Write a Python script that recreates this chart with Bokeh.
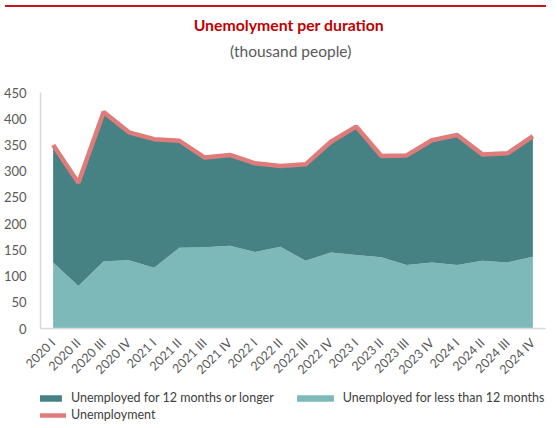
from math import pi
from bokeh.plotting import figure
from bokeh.models import (Range1d, FixedTicker, Legend, LegendItem, Label, Div,
                          ColumnDataSource)
from bokeh.layouts import column
from bokeh.embed import file_html
from bokeh.resources import INLINE

quarters = ["2020 I", "2020 II", "2020 III", "2020 IV",
            "2021 I", "2021 II", "2021 III", "2021 IV",
            "2022 I", "2022 II", "2022 III", "2022 IV",
            "2023 I", "2023 II", "2023 III", "2023 IV",
            "2024 I", "2024 II", "2024 III", "2024 IV"]
short_term = [126, 81, 128, 130, 116, 154, 155, 158, 146, 156,
              129, 145, 140, 136, 121, 126, 121, 129, 126, 137]
long_term = [224, 197, 285, 244, 245, 204, 171, 173, 169, 154,
             184, 211, 245, 193, 209, 233, 248, 203, 208, 230]
unemployment = [350, 278, 413, 374, 361, 358, 326, 331, 315, 310,
                313, 356, 385, 329, 330, 359, 369, 332, 334, 367]
y_ticks = [0, 50, 100, 150, 200, 250, 300, 350, 400, 450]

FONT = "Lato"
DARK = "#468284"
LIGHT = "#7db9b9"
RED = "#e07b7b"
W = 549


def strip(height):
    f = figure(width=W, height=height, x_range=Range1d(0, W),
               y_range=Range1d(height, 0), output_backend="svg",
               toolbar_location=None, min_border=0, min_border_left=0,
               min_border_right=0, min_border_top=0, min_border_bottom=0,
               x_axis_type=None, y_axis_type=None, title=None)
    f.outline_line_color = None
    f.xgrid.visible = False
    f.ygrid.visible = False
    return f


# header
hf = strip(72)
hf.add_layout(Label(x=270, y=12, text="Unemolyment per duration",
                    text_align="center", text_baseline="middle",
                    text_font=FONT, text_font_size="15.8px",
                    text_font_style="bold", text_color="#c00000"))
hf.add_layout(Label(x=272, y=38, text="(thousand people)",
                    text_align="center", text_baseline="middle",
                    text_font=FONT, text_font_size="15.5px",
                    text_color="#595959"))

# main chart
src = ColumnDataSource(dict(x=list(range(len(quarters))), short=short_term,
                            long=long_term, total=unemployment))

p = figure(width=W, height=305, x_range=Range1d(-0.5, len(quarters) - 0.5),
           y_range=Range1d(0, 450), output_backend="svg", toolbar_location=None,
           min_border_left=36, min_border_right=4, min_border_top=8,
           min_border_bottom=61, title=None)
p.outline_line_color = None
p.xgrid.visible = False
p.ygrid.visible = False

areas = p.varea_stack(["short", "long"], x="x", source=src,
                      fill_color=[LIGHT, DARK])
line = p.line("x", "total", source=src, line_width=4.5, line_color=RED)

for ax in (p.xaxis[0], p.yaxis[0]):
    ax.axis_line_color = "#d9d9d9"
    ax.axis_line_width = 1.5
    ax.major_tick_line_color = None
    ax.minor_tick_line_color = None
    ax.major_tick_out = 0
    ax.major_tick_in = 0
    ax.major_label_text_font = FONT
    ax.major_label_text_font_size = "13px"
    ax.major_label_text_color = "#595959"

p.yaxis.ticker = FixedTicker(ticks=y_ticks)
p.yaxis.major_label_standoff = 14
p.xaxis.ticker = FixedTicker(ticks=list(range(len(quarters))))
p.xaxis.major_label_overrides = {i: q for i, q in enumerate(quarters)}
p.xaxis.major_label_orientation = pi / 4
p.xaxis.major_label_text_font_size = "12.5px"
p.xaxis.major_label_standoff = 12

# legend strip
lf = strip(33)
sw_dark = lf.varea(x=[0, 1], y1=[0, 0], y2=[0, 0], fill_color=DARK)
sw_light = lf.varea(x=[0, 1], y1=[0, 0], y2=[0, 0], fill_color=LIGHT)
sw_line = lf.line(x=[0, 1], y=[-20, -20], line_width=4.5, line_color=RED)


def style(leg):
    leg.label_text_font = FONT
    leg.label_text_font_size = "12.5px"
    leg.label_text_color = "#404040"
    leg.glyph_width = 46
    leg.glyph_height = 8
    leg.label_height = 14
    leg.label_standoff = 5
    leg.spacing = 18
    leg.padding = 0
    leg.margin = 0
    leg.border_line_color = None
    leg.background_fill_alpha = 0


leg1 = Legend(items=[
    LegendItem(label="Unemployed for 12 months or longer", renderers=[sw_dark]),
    LegendItem(label="Unemployed for less than 12 months", renderers=[sw_light]),
], orientation="horizontal", location=(-20, 17))
leg2 = Legend(items=[LegendItem(label="Unemployment", renderers=[sw_line])],
              orientation="horizontal", location=(-20, 0))
style(leg1)
style(leg2)
lf.add_layout(leg1, "center")
lf.add_layout(leg2, "center")

bar = Div(text="", width=541, height=2, styles={"background-color": "#c8161d"})
layout = column(bar, hf, p, lf, spacing=0)

open("out.html", "w").write(file_html(layout, INLINE))
